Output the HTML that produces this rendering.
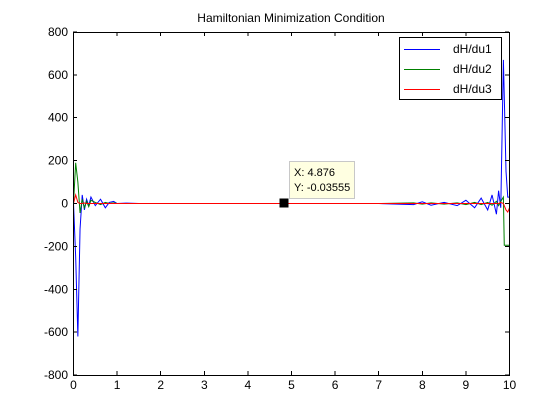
<!DOCTYPE html>
<html><head><meta charset="utf-8"><style>
body{margin:0;background:#fff;}
svg{display:block;font-family:"Liberation Sans",sans-serif;}
</style></head><body>
<svg id="chart" width="560" height="420" xmlns="http://www.w3.org/2000/svg">
<rect width="560" height="420" fill="#fff"/>
<text x="291" y="22" font-size="12" text-anchor="middle">Hamiltonian Minimization Condition</text>
<g id="series"></g>
<rect x="73.5" y="32.5" width="436" height="343" fill="none" stroke="#000"/>
<g id="axes" shape-rendering="crispEdges"></g>
<g>
<rect x="399.5" y="37.5" width="102" height="62" fill="#fff" stroke="#000"/>
<line x1="404" y1="49.5" x2="440" y2="49.5" stroke="#0000ff"/>
<text x="453" y="53" font-size="12">dH/du1</text>
<line x1="404" y1="69.5" x2="440" y2="69.5" stroke="#008000"/>
<text x="453" y="73" font-size="12">dH/du2</text>
<line x1="404" y1="89.5" x2="440" y2="89.5" stroke="#ff0000"/>
<text x="453" y="93" font-size="12">dH/du3</text>
</g>
<g id="series2"></g>
<g>
<rect x="279.5" y="198.5" width="9" height="9" fill="#000"/>
<rect x="289.5" y="161.5" width="65" height="37" fill="#ffffe1" stroke="#c8c8c8"/>
<text x="294" y="176" font-size="11">X: 4.876</text>
<text x="294" y="191" font-size="11">Y: -0.03555</text>
</g>
</svg>
<script>
const tVals=[0,0.05,0.1,0.15,0.2,0.25,0.3,0.35,0.4,0.5,0.62,0.73,0.82,0.92,1.0,1.2,1.5,2,3,4,5,6,7,7.8,8,8.2,8.5,8.8,9,9.2,9.35,9.5,9.6,9.7,9.75,9.8,9.86,9.88,9.92,9.96,10];
const u1=[0,-250,-620,-120,40,-30,20,-10,30,-10,20,-20,5,10,0,2,0,0,0,0,0,0,0,-5,8,-8,5,-10,15,-20,25,-30,40,-50,60,-20,670,500,150,30,30];
const u2=[0,190,100,-44,20,-20,10,-15,15,5,-5,5,0,3,0,0,0,0,0,0,0,0,0,3,-3,3,-3,3,-5,5,-5,5,-8,10,-10,10,30,-195,-195,-195,-195];
const u3=[0,40,5,0,0,2,0,0,0,0,0,0,0,0,0,0,0,0,0,0,0,0,0,0,0,0,0,0,0,0,0,0,0,0,0,5,0,-10,-30,-40,-20];
const xTicks=[0,1,2,3,4,5,6,7,8,9,10];
const yTicks=[-800,-600,-400,-200,0,200,400,600,800];
const X=v=>73.5+v*43.6, Y=v=>203.5-v*0.2144;
const ns="http://www.w3.org/2000/svg";
const sg=document.getElementById('series'), ag=document.getElementById('axes');
function poly(arr,color,name){
 const p=document.createElementNS(ns,'polyline');
 p.setAttribute('points',tVals.map((t,i)=>X(t)+','+Y(arr[i])).join(' '));
 p.setAttribute('fill','none');p.setAttribute('stroke',color);p.setAttribute('stroke-width','1');
 
 
 sg.appendChild(p);
}
poly(u1,'#0000ff','series-du1');
poly(u2,'#008000','series-du2');
poly(u3,'#ff0000','series-du3');
xTicks.forEach(v=>{
 const x=X(v);
 ag.insertAdjacentHTML('beforeend',`<line x1="${x}" y1="375" x2="${x}" y2="371" stroke="#000"/><line x1="${x}" y1="32" x2="${x}" y2="36" stroke="#000"/>`);
 const t=document.createElementNS(ns,'text');
 t.setAttribute('x',x);t.setAttribute('y',389);t.setAttribute('font-size','12');t.setAttribute('text-anchor','middle');
 t.textContent=v;
 
 
 ag.appendChild(t);
});
yTicks.forEach(v=>{
 const y=Y(v);
 ag.insertAdjacentHTML('beforeend',`<line x1="73" y1="${y}" x2="77" y2="${y}" stroke="#000"/><line x1="509" y1="${y}" x2="505" y2="${y}" stroke="#000"/>`);
 const t=document.createElementNS(ns,'text');
 t.setAttribute('x',68);t.setAttribute('y',y+4);t.setAttribute('font-size','12');t.setAttribute('text-anchor','end');
 t.textContent=v;
 
 
 ag.appendChild(t);
});
</script>
</body></html>
